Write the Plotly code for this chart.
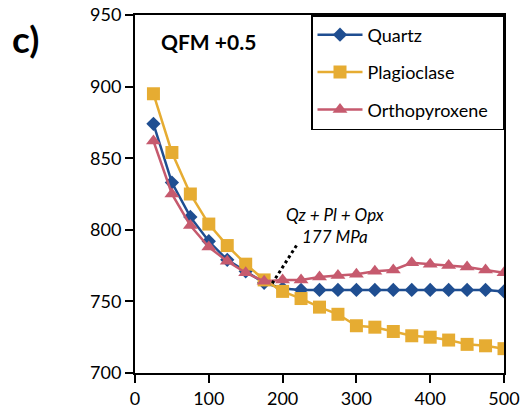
import plotly.graph_objects as go

pressure = [25, 50, 75, 100, 125, 150, 175, 200, 225, 250, 275, 300, 325, 350, 375, 400, 425, 450, 475, 500]
quartz = [874, 833, 809, 792, 779, 771, 763, 759, 758, 758, 758, 758, 758, 758, 758, 758, 758, 758, 758, 757]
plagioclase = [895, 854, 825, 804, 789, 776, 765, 757, 752, 746, 741, 733, 732, 729, 726, 725, 723, 720, 719, 717]
orthopyroxene = [862, 825, 803, 788, 778, 770, 764, 765, 765, 767, 768, 769, 771, 772, 777, 776, 775, 774, 772, 770]

names = ["Quartz", "Plagioclase", "Orthopyroxene"]
colors = ["#1F4E91", "#E6AC32", "#C65A6E"]
symbols = ["diamond", "square", "triangle-up"]
sizes = [11, 13, 13]
series = [quartz, plagioclase, orthopyroxene]

FONT = "Lato"
PAD = "\u00a0\u00a0"  # right padding inside the legend box

fig = go.Figure()
for i in range(3):
    fig.add_trace(go.Scatter(
        x=pressure, y=series[i], name=names[i] + PAD, mode="lines+markers",
        line=dict(color=colors[i], width=2.5),
        marker=dict(symbol=symbols[i], size=sizes[i], color=colors[i]),
        legendgroup=names[i],
    ))

fig.add_shape(type="line", x0=186, y0=762.6, x1=220, y1=790,
              line=dict(color="black", width=3, dash="dot"))
fig.add_annotation(x=271, y=803, text="Qz + Pl + Opx<br>177 MPa", showarrow=False,
                   font=dict(family=FONT, size=17, color="black", style="italic"),
                   align="center")
fig.add_annotation(xref="paper", yref="paper", x=0.064, y=0.925, xanchor="left", yanchor="middle",
                   text="<b>QFM +0.5</b>", showarrow=False,
                   font=dict(family=FONT, size=21, color="black"))
fig.add_annotation(xref="paper", yref="paper", x=-0.34, y=0.935, xanchor="left", yanchor="middle",
                   text="<b>c)</b>", showarrow=False,
                   font=dict(family=FONT, size=37, color="black"))

axis_common = dict(showline=True, linecolor="black", linewidth=2, mirror=True,
                   ticks="outside", ticklen=8, tickwidth=2, tickcolor="black",
                   showgrid=False, zeroline=False, automargin=False,
                   tickfont=dict(family=FONT, size=18, color="black"))
fig.update_xaxes(range=[0, 500], dtick=100, tick0=0, **axis_common)
fig.update_yaxes(range=[700, 950], dtick=50, tick0=700, **axis_common)

fig.update_layout(
    width=523, height=414,
    margin=dict(l=135, r=19, t=15, b=41, autoexpand=False),
    plot_bgcolor="white", paper_bgcolor="white",
    font=dict(family=FONT, size=18, color="black"),
    legend=dict(x=1, y=1, xanchor="right", yanchor="top",
                bordercolor="black", borderwidth=1.5, bgcolor="white",
                traceorder="grouped", tracegroupgap=11, itemwidth=45,
                font=dict(family=FONT, size=18, color="black")),
)

fig.write_html("out.html")
